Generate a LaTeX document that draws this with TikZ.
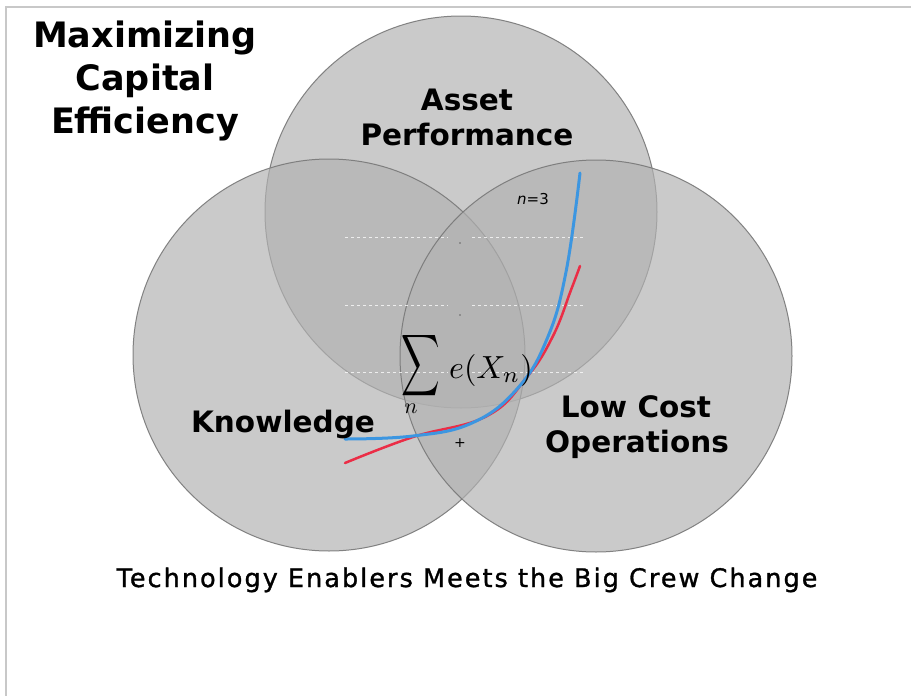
\documentclass[tikz,border=0pt]{standalone}
\usepackage{fontspec}
\newfontfamily\vsans{DejaVu Sans}
\newfontfamily\capfont[LetterSpace=8, FakeBold=1.2]{DejaVu Sans}
\begin{document}
\begin{tikzpicture}[x=1pt,y=-1pt,
  venn/.style={circle, inner sep=0pt, minimum size=392pt,
    fill={rgb,255:red,178;green,178;blue,178}, fill opacity=0.68,
    draw={rgb,255:red,120;green,120;blue,120}, draw opacity=0.9, line width=1pt},
  headline/.style={anchor=base, inner sep=0pt, font=\vsans\bfseries\fontsize{35}{42}\selectfont},
  setlabel/.style={anchor=base, inner sep=0pt, font=\vsans\bfseries\fontsize{29.5}{35}\selectfont},
  caption/.style={anchor=base, inner sep=0pt, font=\capfont\fontsize{25.5}{30}\selectfont},
  gridline/.style={white, opacity=0.75, line width=1pt, dash pattern=on 3pt off 3pt},
  framestroke/.style={draw={rgb,255:red,200;green,200;blue,200}, line width=2pt},
  bluecurve/.style={draw={rgb,255:red,60;green,150;blue,225}, line width=3pt, line cap=round},
  redcurve/.style={draw={rgb,255:red,235;green,45;blue,70}, line width=2.5pt, line cap=round}
]
\useasboundingbox (0,0) rectangle (911,696);
\fill[white] (0,0) rectangle (911,696);
\draw[framestroke] (6,696) -- (6,7) -- (911,7);

% the three sets
\node[venn] (asset) at (461,212) {};
\node[venn] (know)  at (329,355) {};
\node[venn] (lowcost) at (596,356) {};

% faint chart grid in the centre
\foreach \yy in {237,305,372} {
  \draw[gridline] (345,\yy) -- (448,\yy);
  \draw[gridline] (472,\yy) -- (584,\yy);
}
\fill[black!60] (460,243) circle[radius=0.9];
\fill[black!60] (460,315) circle[radius=0.9];

% growth curves
\draw[redcurve] plot[smooth, tension=0.7] coordinates
  {(345,463) (413,437) (487,416) (527,377) (553,336) (571,290) (580,266)};
\draw[bluecurve] plot[smooth, tension=0.7] coordinates
  {(345,439) (413,436) (472,423) (517,389) (547,339) (566,272) (580,173)};

% formula
\node[anchor=center, inner sep=0pt] (sigma) at (421,366)
  {\scalebox{2.67}[4.3]{$\displaystyle\sum$}};
\node[anchor=base, inner sep=0pt] (expr) at (491,378) {\scalebox{3.2}{$e(X_n)$}};
\node[anchor=base, inner sep=0pt] (idx) at (411,413) {\scalebox{2.2}{$n$}};
\node[anchor=base, inner sep=0pt, font=\vsans\fontsize{15}{15}\selectfont] (nval) at (533,204) {\itshape n\upshape=3};
\node[anchor=center, inner sep=0pt, font=\vsans\fontsize{14}{14}\selectfont] (plus) at (460,443) {+};

% headings and set labels
\node[headline] (t1) at (145,47) {Maximizing};
\node[headline] (t2) at (145,90) {Capital};
\node[headline] (t3) at (145,133) {Efficiency};

\node[setlabel] (a1) at (467,110) {Asset};
\node[setlabel] (a2) at (467,145) {Performance};
\node[setlabel] (k1) at (283,432) {Knowledge};
\node[setlabel] (l1) at (636,417) {Low Cost};
\node[setlabel] (l2) at (637,452) {Operations};

\node[caption] (cap) at (467,587) {Technology Enablers Meets the Big Crew Change};
\end{tikzpicture}
\end{document}
